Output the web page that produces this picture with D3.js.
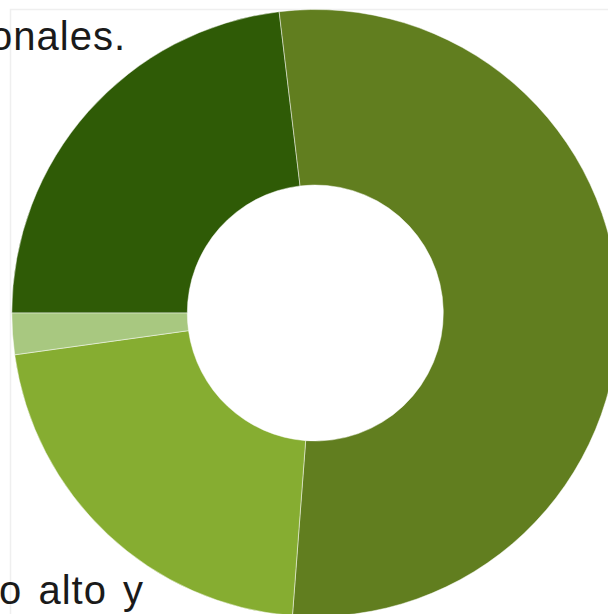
<!DOCTYPE html>
<html>
<head>
<meta charset="utf-8">
<script src="https://cdn.jsdelivr.net/npm/d3@7"></script>
<style>
  html, body { margin: 0; padding: 0; background: #fff; }
  svg { display: block; }
  .caption { font-family: "Liberation Sans", Arial, Helvetica, sans-serif; font-size: 40px; fill: #1a1a1a; letter-spacing: 1px; }
</style>
</head>
<body>
<div id="chart"></div>
<script>
// Share of each group (percent), drawn clockwise from 9 o'clock
const categories = ["Grupo 1", "Grupo 2", "Grupo 3", "Grupo 4"];
const shares = [23.1, 53.1, 21.6, 2.2];
const sliceColors = ["#2f5b06", "#617e1f", "#86ad31", "#a8c880"];
const captionLines = ["onales.", "o alto y"];

const width = 608, height = 614;
const cx = 315.3, cy = 313;
const outerR = 303.5, innerR = 128;

const svg = d3.select("#chart").append("svg")
  .attr("width", width)
  .attr("height", height);

// light frame of the panel
svg.append("path")
  .attr("d", `M10.5,${height} V9.5 H${width}`)
  .attr("fill", "none")
  .attr("stroke", "#efefef")
  .attr("stroke-width", 1.5);

const pie = d3.pie()
  .sort(null)
  .value(d => d.value)
  .startAngle(-Math.PI / 2)
  .endAngle(3 * Math.PI / 2);

const arc = d3.arc().innerRadius(innerR).outerRadius(outerR);

const color = d3.scaleOrdinal().domain(categories).range(sliceColors);

const data = categories.map((c, i) => ({ name: c, value: shares[i] }));

svg.append("g")
  .attr("transform", `translate(${cx},${cy})`)
  .selectAll("path")
  .data(pie(data))
  .join("path")
  .attr("d", arc)
  .attr("fill", d => color(d.data.name))
  .attr("stroke", "#ffffff")
  .attr("stroke-opacity", 0.6)
  .attr("stroke-width", 0.8);

// caption fragments running past the panel edges
svg.append("text")
  .attr("class", "caption")
  .attr("x", 126)
  .attr("y", 50)
  .attr("text-anchor", "end")
  .text(captionLines[0]);

svg.append("text")
  .attr("class", "caption")
  .attr("x", 144)
  .attr("y", 604)
  .attr("text-anchor", "end")
  .attr("letter-spacing", "1.5px")
  .attr("word-spacing", "4px")
  .text(captionLines[1]);
</script>
</body>
</html>
